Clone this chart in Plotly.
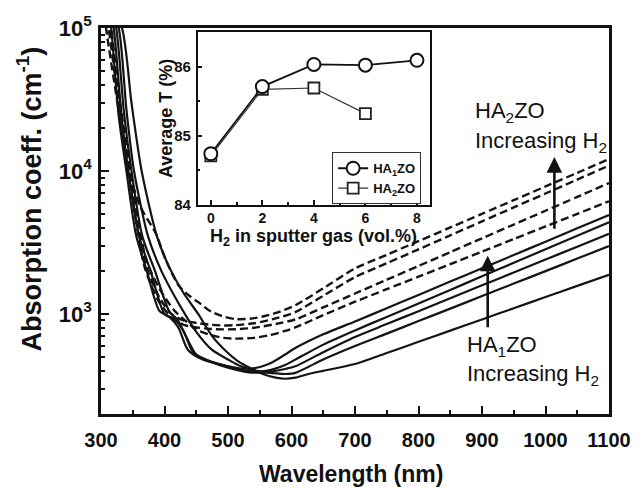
import plotly.graph_objects as go

# ---------------- main chart data (wavelength nm, absorption coeff cm^-1) ----------------
# HA1ZO (solid), S1 = highest long-wavelength absorption
s1_wl = [300, 316, 328, 340, 355, 372, 392, 408, 422, 437, 460, 490, 520, 545, 570, 590, 606, 650, 700, 750, 800, 850, 900, 950, 1000, 1050, 1100]
s1_val = [4e5, 1e5, 2.4e4, 1e4, 3600, 2000, 1050, 950, 800, 560, 480, 440, 415, 420, 460, 520, 577, 720, 885, 1096, 1358, 1683, 2085, 2583, 3200, 3970, 4920]

s2_wl = [300, 320, 332, 343, 360, 378, 400, 415, 430, 445, 470, 500, 530, 560, 590, 606, 650, 700, 750, 800, 850, 900, 950, 1000, 1050, 1100]
s2_val = [3e5, 1e5, 2.5e4, 1e4, 3500, 2000, 1000, 920, 760, 540, 470, 430, 400, 400, 440, 479, 610, 767, 953, 1185, 1472, 1832, 2277, 2831, 3520, 4380]

s3_wl = [300, 324, 336, 348, 365, 385, 408, 420, 435, 450, 475, 500, 530, 560, 590, 606, 650, 700, 750, 800, 850, 900, 950, 1000, 1050, 1100]
s3_val = [3e5, 1e5, 2.6e4, 1e4, 3500, 2000, 1030, 920, 680, 520, 460, 420, 392, 390, 412, 430, 540, 690, 849, 1045, 1288, 1585, 1950, 2400, 2955, 3640]

s4_wl = [300, 328, 340, 352, 374, 395, 415, 432, 450, 475, 500, 520, 545, 570, 590, 606, 650, 700, 750, 800, 850, 900, 950, 1000, 1050, 1100]
s4_val = [2.5e5, 1e5, 2.7e4, 1e4, 3500, 2000, 1350, 1000, 750, 560, 480, 430, 400, 385, 380, 387, 480, 596, 728, 891, 1089, 1333, 1630, 1992, 2438, 2980]

s5_wl = [300, 333, 348, 364, 388, 408, 430, 453, 475, 495, 515, 535, 555, 575, 590, 606, 627, 650, 700, 750, 800, 850, 900, 950, 1000, 1050, 1100]
s5_val = [2e5, 1e5, 3e4, 1e4, 3500, 2100, 1400, 1000, 700, 560, 470, 418, 380, 358, 352, 358, 380, 400, 446, 533, 638, 764, 915, 1096, 1312, 1571, 1880]

# HA2ZO (dashed), D1 = highest long-wavelength absorption
d1_wl = [300, 316, 337, 348, 363, 386, 402, 422, 440, 453, 473, 495, 512, 535, 555, 577, 606, 650, 700, 750, 800, 850, 900, 950, 1000, 1050, 1100]
d1_val = [3e5, 1e5, 1.5e4, 8500, 5500, 3680, 2390, 1585, 1330, 1210, 1040, 953, 920, 925, 960, 1020, 1150, 1510, 2080, 2590, 3230, 4025, 5015, 6250, 7790, 9710, 12100]

d2_wl = [300, 312, 329, 348, 369, 392, 411, 430, 454, 473, 493, 512, 541, 575, 606, 650, 700, 750, 800, 850, 900, 950, 1000, 1050, 1100]
d2_val = [2.5e5, 1e5, 2.8e4, 8000, 2300, 1300, 1000, 900, 860, 840, 830, 835, 860, 930, 1030, 1340, 1808, 2263, 2830, 3545, 4440, 5560, 6955, 8710, 10900]

d3_wl = [300, 308, 327, 347, 369, 392, 411, 430, 454, 473, 493, 512, 541, 575, 606, 650, 700, 750, 800, 850, 900, 950, 1000, 1050, 1100]
d3_val = [2.2e5, 1e5, 2.8e4, 7500, 2100, 1200, 950, 840, 800, 785, 780, 782, 800, 850, 915, 1110, 1390, 1735, 2165, 2705, 3380, 4220, 5270, 6580, 8230]

d4_wl = [300, 314, 331, 350, 371, 392, 416, 435, 449, 474, 493, 512, 541, 565, 590, 606, 650, 700, 750, 800, 850, 900, 950, 1000, 1050, 1100]
d4_val = [2.5e5, 1e5, 2.8e4, 8000, 2400, 1500, 1050, 880, 780, 710, 680, 672, 680, 710, 760, 805, 980, 1217, 1490, 1823, 2230, 2730, 3343, 4093, 5012, 6140]

# ---------------- inset data ----------------
h2_ha1 = [0, 2, 4, 6, 8]
t_ha1 = [84.74, 85.71, 86.03, 86.02, 86.09]
h2_ha2 = [0, 2, 4, 6]
t_ha2 = [84.71, 85.67, 85.69, 85.32]

x_ticks = [300, 400, 500, 600, 700, 800, 900, 1000, 1100]
y_ticks = [1e3, 1e4, 1e5]
y_ticktext = ["10<sup>3</sup>", "10<sup>4</sup>", "10<sup>5</sup>"]

FONT = "Liberation Sans"
fig = go.Figure()

for wl, val in [(s1_wl, s1_val), (s2_wl, s2_val), (s3_wl, s3_val), (s4_wl, s4_val), (s5_wl, s5_val)]:
    fig.add_trace(go.Scatter(x=wl, y=val, mode="lines", showlegend=False,
                             line=dict(color="#141414", width=2.2, shape="spline", smoothing=0.7),
                             hoverinfo="skip"))
for wl, val in [(d1_wl, d1_val), (d2_wl, d2_val), (d3_wl, d3_val), (d4_wl, d4_val)]:
    fig.add_trace(go.Scatter(x=wl, y=val, mode="lines", showlegend=False,
                             line=dict(color="#141414", width=2.4, dash="8px,4px", shape="spline", smoothing=0.7),
                             hoverinfo="skip"))

# inset
fig.add_trace(go.Scatter(x=h2_ha2, y=t_ha2, mode="lines+markers", name="HA<sub>2</sub>ZO",
                         xaxis="x2", yaxis="y2", legendrank=2,
                         line=dict(color="#333333", width=1.2),
                         marker=dict(symbol="square", size=11, color="white",
                                     line=dict(color="#222222", width=1.8))))
fig.add_trace(go.Scatter(x=h2_ha1, y=t_ha1, mode="lines+markers", name="HA<sub>1</sub>ZO",
                         xaxis="x2", yaxis="y2", legendrank=1,
                         line=dict(color="#111111", width=1.8),
                         marker=dict(symbol="circle", size=13, color="white",
                                     line=dict(color="#111111", width=2))))

axis_common = dict(showline=True, linecolor="#111111", mirror=True, showgrid=False, zeroline=False,
                   ticks="inside", tickcolor="#111111")

minor_y = [m * 10 ** e for e in (2, 3, 4) for m in range(2, 10)]

fig.update_layout(
    width=643, height=488,
    margin=dict(l=101, r=24, t=22, b=74),
    paper_bgcolor="white", plot_bgcolor="white",
    xaxis=dict(**axis_common, range=[300, 1100], linewidth=2.5, tickwidth=2, ticklen=8,
               tickvals=x_ticks, ticklabelstandoff=6,
               tickfont=dict(family=FONT, size=20, color="#111111", weight="bold"),
               minor=dict(ticks="inside", dtick=50, tick0=300, ticklen=4, tickwidth=2, tickcolor="#111111")),
    yaxis=dict(**axis_common, type="log", range=[2.3, 5], linewidth=2.5, tickwidth=2, ticklen=8,
               tickvals=y_ticks, ticktext=y_ticktext, ticklabelstandoff=2,
               tickfont=dict(family=FONT, size=22, color="#111111", weight="bold"),
               minor=dict(ticks="inside", tickvals=minor_y, ticklen=4, tickwidth=1.5, tickcolor="#111111")),
    xaxis2=dict(**axis_common, domain=[0.1903, 0.6483], anchor="y2", range=[-0.51, 8.52],
                linewidth=1.6, tickwidth=1.5, ticklen=5, tickvals=[0, 2, 4, 6, 8], ticklabelstandoff=-1,
                tickfont=dict(family=FONT, size=14, color="#111111", weight="bold"),
                minor=dict(ticks="inside", tickvals=[1, 3, 5, 7], ticklen=3, tickwidth=1.5, tickcolor="#111111")),
    yaxis2=dict(**axis_common, domain=[0.5416, 0.9898], anchor="x2", range=[84, 86.5],
                linewidth=1.6, tickwidth=1.5, ticklen=5, tickvals=[84, 85, 86], ticklabelstandoff=2,
                tickfont=dict(family=FONT, size=15, color="#111111", weight="bold"),
                minor=dict(ticks="inside", tickvals=[84.5, 85.5], ticklen=3, tickwidth=1.5, tickcolor="#111111")),
    legend=dict(x=0.455, y=0.678, xanchor="left", yanchor="top", bgcolor="white",
                bordercolor="#333333", borderwidth=1, itemwidth=30, tracegroupgap=0,
                font=dict(family=FONT, size=13, color="#111111", weight="bold")),
    showlegend=True,
)

ann = []
# axis titles
ann.append(dict(text="Wavelength (nm)", xref="paper", yref="paper", x=0.492, y=-0.1556,
                xanchor="center", yanchor="middle", showarrow=False,
                font=dict(family=FONT, size=23, color="#111111", weight="bold")))
ann.append(dict(text="Absorption coeff. (cm<sup>-1</sup>)", xref="paper", yref="paper", x=-0.142, y=0.558,
                xanchor="center", yanchor="middle", textangle=-90, showarrow=False,
                font=dict(family=FONT, size=27, color="#111111", weight="bold")))
ann.append(dict(text="H<sub>2</sub> in sputter gas (vol.%)", xref="paper", yref="paper", x=0.4174, y=0.458,
                xanchor="center", yanchor="middle", showarrow=False,
                font=dict(family=FONT, size=18, color="#111111", weight="bold")))
ann.append(dict(text="Average T (%)", xref="paper", yref="paper", x=0.1266, y=0.765,
                xanchor="center", yanchor="middle", textangle=-90, showarrow=False,
                font=dict(family=FONT, size=18, color="#111111", weight="bold")))
# labels
lab_font = dict(family=FONT, size=22, color="#111111")
ann.append(dict(text="HA<sub>2</sub>ZO", xref="paper", yref="paper", x=0.7314, y=0.782,
                xanchor="left", yanchor="middle", showarrow=False, font=lab_font))
ann.append(dict(text="Increasing H<sub>2</sub>", xref="paper", yref="paper", x=0.7314, y=0.705,
                xanchor="left", yanchor="middle", showarrow=False, font=lab_font))
ann.append(dict(text="HA<sub>1</sub>ZO", xref="paper", yref="paper", x=0.716, y=0.176,
                xanchor="left", yanchor="middle", showarrow=False, font=lab_font))
ann.append(dict(text="Increasing H<sub>2</sub>", xref="paper", yref="paper", x=0.716, y=0.102,
                xanchor="left", yanchor="middle", showarrow=False, font=lab_font))
# arrows
ann.append(dict(text="", x=1014, y=4.097, ax=1014, ay=3.586, xref="x", yref="y", axref="x", ayref="y",
                showarrow=True, arrowhead=2, arrowsize=1.2, arrowwidth=2.6, arrowcolor="#111111"))
ann.append(dict(text="", x=909, y=3.407, ax=909, ay=2.897, xref="x", yref="y", axref="x", ayref="y",
                showarrow=True, arrowhead=2, arrowsize=1.2, arrowwidth=2.6, arrowcolor="#111111"))
fig.update_layout(annotations=ann)

fig.write_html("out.html")
